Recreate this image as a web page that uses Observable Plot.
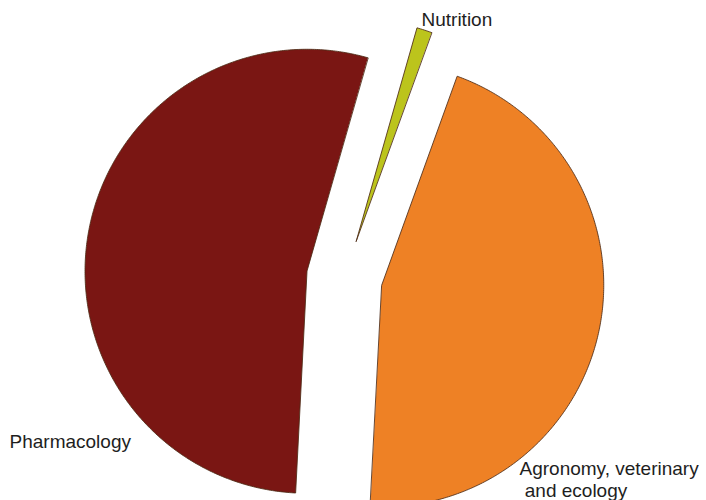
<!DOCTYPE html>
<html>
<head>
<meta charset="utf-8">
<script src="https://cdn.jsdelivr.net/npm/d3@7"></script>
<script src="https://cdn.jsdelivr.net/npm/@observablehq/plot@0.6"></script>
<style>
  html, body { margin: 0; padding: 0; background: #fff; }
  #chart svg { display: block; }
</style>
</head>
<body>
<div id="chart"></div>
<script>
// Share of studies by field (percent), clockwise from the Nutrition wedge
const categories = ["Nutrition", "Agronomy, veterinary and ecology", "Pharmacology"];
const shares = [1.1, 45.3, 53.6];
const labelTexts = ["Nutrition", "Agronomy, veterinary\n\u00a0and ecology", "Pharmacology"];
const sliceColors = ["#bcc41c", "#ee8125", "#7a1613"];

// Layout
const W = 706, H = 500;
const cx = 344, cy = 277, R = 222, explode = 38;
const startDeg = 15.9;
const a0 = startDeg * Math.PI / 180;

const arcs = d3.pie().sort(null).value(d => d)
  .startAngle(a0).endAngle(a0 + 2 * Math.PI)(shares);

// Each wedge as a closed polygon: its (exploded) apex followed by its outer arc
const wedgePoints = [];
arcs.forEach((a, i) => {
  const mid = (a.startAngle + a.endAngle) / 2;
  const ox = cx + explode * Math.sin(mid);
  const oy = cy - explode * Math.cos(mid);
  wedgePoints.push({key: categories[i], x: ox, y: oy});
  const n = Math.max(2, Math.ceil((a.endAngle - a.startAngle) / (Math.PI / 360)));
  for (let j = 0; j <= n; j++) {
    const t = a.startAngle + (a.endAngle - a.startAngle) * j / n;
    wedgePoints.push({key: categories[i], x: ox + R * Math.sin(t), y: oy - R * Math.cos(t)});
  }
});

// Label anchors (top-left of the text block)
const labelAnchor = {
  "Nutrition": [421, 9],
  "Agronomy, veterinary and ecology": [519, 458],
  "Pharmacology": [9, 431]
};
const labels = categories.map((c, i) => ({
  key: c, text: labelTexts[i], x: labelAnchor[c][0], y: labelAnchor[c][1]
}));

const chart = Plot.plot({
  width: W,
  height: H,
  margin: 0,
  style: {fontFamily: "'Liberation Sans', Arial, sans-serif", background: "#fff"},
  x: {domain: [0, W], range: [0, W], axis: null},
  y: {domain: [0, H], range: [0, H], axis: null},
  color: {domain: categories, range: sliceColors, legend: false},
  marks: [
    Plot.line(wedgePoints, {
      x: "x", y: "y", z: "key", fill: "key",
      stroke: "#4e2c16", strokeWidth: 1, strokeOpacity: 0.85,
      curve: "linear-closed"
    }),
    Plot.text(labels, {
      x: "x", y: "y", text: "text",
      textAnchor: "start", lineAnchor: "top", lineHeight: 1.2,
      fontSize: 19, fill: "#1e1e1e"
    })
  ]
});

document.getElementById("chart").append(chart);
</script>
</body>
</html>
